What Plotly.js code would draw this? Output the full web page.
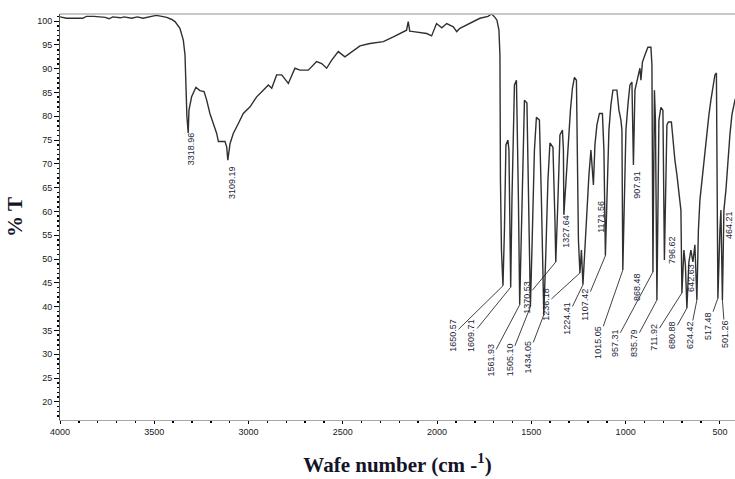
<!DOCTYPE html>
<html>
<head>
<meta charset="utf-8">
<script src="https://cdn.plot.ly/plotly-3.0.1.min.js"></script>
<style>html,body{margin:0;padding:0;background:#fff}#chart{width:735px;height:479px}</style>
</head>
<body>
<div id="chart"></div>
<script>
// ---- data ----
const wavenumber = [
  4000,3965,3880,3860,3820,3790,3760,3740,3720,3680,3660,3620,3590,3560,3530,3490,3460,3434,3410,3390,
  3364,3346,3337,3332,3327,3320,3316,3302,3279,3258,3236,3222,3205,3187,3169,3160,3125,3116,3110,3098,
  3081,3054,3028,2992,2957,2922,2895,2877,2851,2824,2789,2754,2727,2683,2657,2639,2612,2586,2559,2524,
  2489,2453,2409,2356,2285,2232,2162,2153,2145,2126,2055,2029,2003,1975,1949,1914,1896,1879,1826,1773,1730,
  1710.7,1693.2,1682.6,1672.0,1666.7,1664.0,1658.7,1650.6,1642.8,1634.9,1624.3,1619.0,1613.6,1609.7,
  1603.0,1595.1,1589.8,1579.2,1573.9,1568.6,1561.9,1555.3,1544.7,1536.7,1523.5,1515.5,1505.1,1497.0,
  1483.8,1473.2,1457.3,1446.7,1434.0,1422.8,1412.1,1401.5,1385.6,1375.0,1370.5,1359.1,1348.5,1335.3,
  1330.0,1327.6,1314.0,1303.4,1292.8,1282.2,1271.6,1261.0,1255.7,1250.4,1242.4,1234.5,1226.5,1215.9,
  1205.3,1194.7,1184.1,1170.9,1162.9,1152.3,1139.1,1123.2,1115.2,1107.4,1099.3,1088.7,1078.1,1067.5,
  1046.3,1035.6,1025.0,1019.7,1015.0,1006.5,998.5,987.9,977.3,966.7,958.7,950.7,934.8,924.2,918.9,
  910.9,897.8,881.9,865.9,860.6,855.3,847.3,842.0,834.1,823.5,812.9,802.3,794.4,781.2,773.2,757.3,
  749.3,738.7,728.1,717.5,706.9,701.6,691.0,683.1,675.1,664.5,653.9,643.3,632.7,622.1,614.1,606.1,
  590.3,579.6,569.0,558.4,547.8,537.2,526.6,518.6,513.3,510.7,500.0,494.7,486.8,478.8,468.2,457.6,
  447.0,436.4,420.5,409.9
];
const transmittance = [
  100.9,100.6,100.6,101.0,101.0,100.9,100.8,100.5,100.9,100.7,100.9,100.6,100.9,100.6,100.9,101.2,101.0,100.8,100.4,99.9,
  98.5,96.0,92.9,87.0,80.0,76.5,81.3,84.1,86.1,85.4,85.2,83.4,80.6,78.5,76.4,74.7,74.7,73.6,70.8,74.3,
  76.4,78.5,80.6,82.0,84.1,85.5,86.6,85.9,88.7,88.7,86.9,90.1,89.7,89.7,90.8,91.5,91.1,90.1,91.8,93.6,
  92.5,93.6,94.8,95.3,95.7,96.7,98.1,99.9,97.9,97.8,97.4,96.9,99.5,98.6,99.5,98.8,97.8,98.5,99.5,100.6,101.0,
  101.5,100.8,100.2,98.1,92.9,66.6,51.9,44.4,56.1,74.0,75.0,72.9,56.1,44.1,
  62.4,81.3,86.6,87.6,77.1,62.4,40.4,51.9,68.7,83.4,82.8,66.6,40.0,51.9,
  72.9,79.8,79.2,62.4,38.3,51.9,66.6,74.4,73.5,58.2,49.4,62.4,76.1,77.1,
  72.9,59.3,68.7,75.0,81.3,85.9,88.2,87.6,68.7,54.0,47.1,51.9,44.6,51.9,
  61.4,67.7,72.9,65.6,74.0,78.2,80.6,80.6,72.9,50.7,62.4,77.1,82.4,85.5,
  85.5,81.3,79.2,77.1,47.7,62.4,77.1,82.4,86.6,87.2,69.8,85.5,88.7,90.1,87.6,
  91.4,92.9,94.5,94.5,90.8,47.3,85.5,79.2,41.4,79.2,81.9,81.3,49.8,78.2,78.8,78.8,
  75.0,70.8,67.7,64.5,60.3,42.9,51.9,48.8,39.7,49.4,51.9,49.4,53.0,41.4,56.1,62.4,
  68.7,72.9,77.1,80.3,83.4,85.9,88.7,89.1,62.4,41.8,56.1,60.3,41.4,60.3,64.5,70.8,
  76.1,80.3,83.4,84.5
];

// peak labels and the spectrum point each one belongs to
const peakLabels = ["3318.96","3109.19","1650.57","1609.71","1561.93","1505.10","1434.05","1370.53",
  "1327.64","1236.18","1224.41","1171.56","1107.42","1015.05","957.31","907.91","868.48","835.79",
  "796.62","711.92","680.88","642.63","624.42","517.48","501.26","464.21"];
const peakWn = [3320,3110,1650.6,1609.7,1561.9,1505.1,1434.0,1370.5,
  1327.6,1242.4,1226.5,1170.9,1107.4,1015.0,855.3,958.7,855.3,834.1,
  794.4,701.6,675.1,643.3,622.1,510.7,486.8,486.8];
const peakT = [76.5,70.8,44.4,44.1,40.4,40.0,38.3,49.4,
  59.3,47.1,44.6,65.6,50.7,47.7,47.3,69.8,47.3,41.4,
  49.8,42.9,39.7,49.4,41.4,41.8,41.4,41.4];

// ---- layout only: label offsets in pixels [dx, dy(down), leader line?] ----
const labelOffsets = [[3,16,0],[4,22,0],[-50,49,1],[-39,48,1],[-29,55,1],[-21,53,1],[-16,42,1],[-29,35,1],
  [2,16,0],[-34,31,1],[-16,33,1],[7.5,32,0],[-20.5,49,1],[-25,72,1],[-38,71,1],[3.5,20,0],[-16,15,0],[-23,43,1],
  [7.5,-10,0],[-28,44,1],[-15,27,1],[-2,16,0],[-7,35,1],[-10,28,1],[2.5,34,1],[6.5,-75,0]];

const labelFont = {family: "Liberation Sans, Arial, sans-serif", size: 9, color: "#1c2438"};
const annotations = peakLabels.map((t, i) => {
  const [dx, dy, lead] = labelOffsets[i];
  const a = {x: peakWn[i], y: peakT[i], xref: "x", yref: "y", text: t, textangle: -90,
    font: labelFont, borderpad: 0};
  if (lead) {
    Object.assign(a, {showarrow: true, ax: dx, ay: dy, arrowhead: 0, arrowwidth: 0.8,
      arrowcolor: "#111", standoff: 0, startstandoff: 0});
  } else {
    Object.assign(a, {showarrow: false, xshift: dx, yshift: -dy});
  }
  return a;
});

const trace = {
  x: wavenumber, y: transmittance, type: "scatter", mode: "lines",
  line: {color: "#303030", width: 1.4}, hoverinfo: "skip"
};

const tickFont = {family: "Liberation Sans, Arial, sans-serif", size: 9, color: "#1a1a1a"};
const titleFont = {family: "Liberation Serif, Times New Roman, serif", size: 21, color: "#141428"};

const layout = {
  width: 735, height: 479,
  margin: {l: 60, r: 0, t: 14, b: 59},
  paper_bgcolor: "#fff", plot_bgcolor: "#fff",
  showlegend: false,
  xaxis: {
    range: [4000, 420], tick0: 500, dtick: 500, ticks: "outside", ticklen: 3, tickwidth: 1,
    tickcolor: "#000", showline: true, linecolor: "#a8a8a8", linewidth: 1, showgrid: false,
    zeroline: false, tickfont: tickFont,
    minor: {dtick: 100, ticks: "outside", ticklen: 2, tickwidth: 1.5, tickcolor: "#000", showgrid: false},
    title: {text: "<b>Wafe number (cm -<sup>1</sup>)</b>", font: titleFont, standoff: 21}
  },
  yaxis: {
    range: [16.2, 101.5], tick0: 20, dtick: 5, ticks: "outside", ticklen: 5, tickwidth: 1,
    tickcolor: "#000", showline: true, linecolor: "#555", linewidth: 1, showgrid: false,
    zeroline: false, tickfont: tickFont,
    minor: {dtick: 1, ticks: "outside", ticklen: 2.5, tickwidth: 1.6, tickcolor: "#000", showgrid: false},
    title: {text: "<b>% T</b>", font: titleFont, standoff: 8}
  },
  shapes: [{type: "line", xref: "paper", yref: "paper", x0: 0, x1: 1, y0: 1, y1: 1,
    line: {color: "#b4b4b4", width: 1.5}}],
  annotations: annotations
};

Plotly.newPlot("chart", [trace], layout, {displayModeBar: false, staticPlot: true});
</script>
</body>
</html>
